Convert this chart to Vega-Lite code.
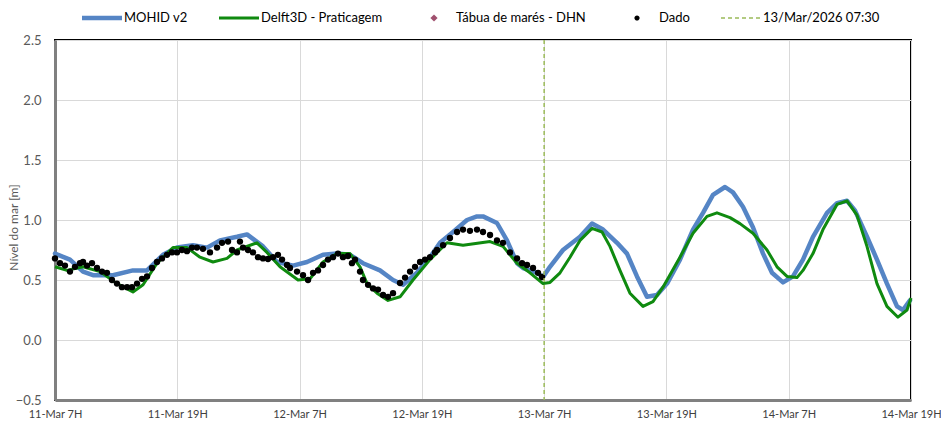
{
  "$schema": "https://vega.github.io/schema/vega-lite/v6.json",
  "width": 856,
  "height": 360,
  "autosize": {"type": "none"},
  "padding": {"left": 55, "top": 40, "right": 30, "bottom": 24},
  "background": "white",
  "config": {
    "font": "Lato",
    "view": {"stroke": "#000000", "strokeWidth": 2},
    "axis": {"gridColor": "#d9d9d9", "gridWidth": 1, "ticks": false, "domainColor": "#808080", "domainWidth": 3}
  },
  "datasets": {
    "mohid": [
      {"t": 7.5, "nivel": 0.72}, {"t": 8.97, "nivel": 0.67}, {"t": 10.25, "nivel": 0.57}, {"t": 11.23, "nivel": 0.54},
      {"t": 13.19, "nivel": 0.54}, {"t": 15.15, "nivel": 0.58}, {"t": 16.53, "nivel": 0.58}, {"t": 18.1, "nivel": 0.71},
      {"t": 19.47, "nivel": 0.77}, {"t": 21.04, "nivel": 0.79}, {"t": 22.42, "nivel": 0.77}, {"t": 23.69, "nivel": 0.83},
      {"t": 25.36, "nivel": 0.86}, {"t": 26.34, "nivel": 0.88}, {"t": 27.91, "nivel": 0.78}, {"t": 29.29, "nivel": 0.65},
      {"t": 30.86, "nivel": 0.62}, {"t": 32.23, "nivel": 0.65}, {"t": 33.8, "nivel": 0.71}, {"t": 35.17, "nivel": 0.72},
      {"t": 36.45, "nivel": 0.71}, {"t": 37.72, "nivel": 0.64}, {"t": 39.39, "nivel": 0.58}, {"t": 40.67, "nivel": 0.5},
      {"t": 41.65, "nivel": 0.46}, {"t": 43.02, "nivel": 0.56}, {"t": 44.3, "nivel": 0.69}, {"t": 45.28, "nivel": 0.81},
      {"t": 46.56, "nivel": 0.9}, {"t": 47.93, "nivel": 1.0}, {"t": 48.91, "nivel": 1.03}, {"t": 49.5, "nivel": 1.03},
      {"t": 50.87, "nivel": 0.975}, {"t": 51.85, "nivel": 0.83}, {"t": 52.84, "nivel": 0.64}, {"t": 53.43, "nivel": 0.6},
      {"t": 54.8, "nivel": 0.56}, {"t": 55.39, "nivel": 0.525}, {"t": 56.07, "nivel": 0.61}, {"t": 57.35, "nivel": 0.75},
      {"t": 59.02, "nivel": 0.86}, {"t": 60.2, "nivel": 0.97}, {"t": 61.28, "nivel": 0.92}, {"t": 62.65, "nivel": 0.81},
      {"t": 63.63, "nivel": 0.72}, {"t": 64.61, "nivel": 0.53}, {"t": 65.59, "nivel": 0.36}, {"t": 66.57, "nivel": 0.375},
      {"t": 67.56, "nivel": 0.47}, {"t": 68.83, "nivel": 0.67}, {"t": 70.11, "nivel": 0.92}, {"t": 71.09, "nivel": 1.06},
      {"t": 72.07, "nivel": 1.21}, {"t": 73.25, "nivel": 1.275}, {"t": 74.03, "nivel": 1.23}, {"t": 75.01, "nivel": 1.11},
      {"t": 75.99, "nivel": 0.94}, {"t": 76.98, "nivel": 0.72}, {"t": 77.86, "nivel": 0.56}, {"t": 78.94, "nivel": 0.48},
      {"t": 79.92, "nivel": 0.53}, {"t": 80.9, "nivel": 0.67}, {"t": 81.88, "nivel": 0.86}, {"t": 83.26, "nivel": 1.06},
      {"t": 84.24, "nivel": 1.14}, {"t": 85.22, "nivel": 1.16}, {"t": 86.0, "nivel": 1.08}, {"t": 87.18, "nivel": 0.86},
      {"t": 88.16, "nivel": 0.67}, {"t": 89.14, "nivel": 0.47}, {"t": 90.13, "nivel": 0.28}, {"t": 90.71, "nivel": 0.25},
      {"t": 91.4, "nivel": 0.33}
    ],
    "delft": [
      {"t": 7.5, "nivel": 0.61}, {"t": 8.68, "nivel": 0.58}, {"t": 10.25, "nivel": 0.61}, {"t": 11.92, "nivel": 0.57},
      {"t": 13.58, "nivel": 0.47}, {"t": 15.15, "nivel": 0.4}, {"t": 16.14, "nivel": 0.46}, {"t": 17.51, "nivel": 0.64},
      {"t": 19.08, "nivel": 0.77}, {"t": 20.45, "nivel": 0.77}, {"t": 21.73, "nivel": 0.69}, {"t": 23.0, "nivel": 0.65},
      {"t": 24.38, "nivel": 0.68}, {"t": 25.36, "nivel": 0.75}, {"t": 27.32, "nivel": 0.81}, {"t": 28.3, "nivel": 0.73},
      {"t": 29.58, "nivel": 0.61}, {"t": 31.35, "nivel": 0.5}, {"t": 32.52, "nivel": 0.51}, {"t": 33.8, "nivel": 0.65},
      {"t": 35.17, "nivel": 0.72}, {"t": 36.45, "nivel": 0.72}, {"t": 37.43, "nivel": 0.61}, {"t": 38.12, "nivel": 0.47},
      {"t": 39.1, "nivel": 0.39}, {"t": 40.18, "nivel": 0.33}, {"t": 41.36, "nivel": 0.36}, {"t": 42.63, "nivel": 0.5},
      {"t": 44.3, "nivel": 0.67}, {"t": 45.97, "nivel": 0.81}, {"t": 47.54, "nivel": 0.79}, {"t": 50.19, "nivel": 0.82},
      {"t": 51.46, "nivel": 0.78}, {"t": 52.84, "nivel": 0.64}, {"t": 54.11, "nivel": 0.56}, {"t": 55.39, "nivel": 0.47},
      {"t": 56.07, "nivel": 0.48}, {"t": 57.06, "nivel": 0.56}, {"t": 58.04, "nivel": 0.69}, {"t": 59.02, "nivel": 0.83},
      {"t": 60.2, "nivel": 0.93}, {"t": 61.18, "nivel": 0.9}, {"t": 61.96, "nivel": 0.78}, {"t": 62.94, "nivel": 0.58},
      {"t": 63.92, "nivel": 0.39}, {"t": 65.2, "nivel": 0.28}, {"t": 66.18, "nivel": 0.32}, {"t": 67.16, "nivel": 0.44},
      {"t": 68.83, "nivel": 0.69}, {"t": 70.11, "nivel": 0.89}, {"t": 71.48, "nivel": 1.03}, {"t": 72.46, "nivel": 1.06},
      {"t": 73.74, "nivel": 1.02}, {"t": 74.72, "nivel": 0.97}, {"t": 75.99, "nivel": 0.89}, {"t": 77.37, "nivel": 0.75},
      {"t": 78.35, "nivel": 0.61}, {"t": 79.33, "nivel": 0.53}, {"t": 80.31, "nivel": 0.52}, {"t": 80.9, "nivel": 0.58},
      {"t": 81.88, "nivel": 0.72}, {"t": 82.86, "nivel": 0.92}, {"t": 84.24, "nivel": 1.13}, {"t": 85.22, "nivel": 1.16},
      {"t": 86.2, "nivel": 1.04}, {"t": 87.18, "nivel": 0.78}, {"t": 88.16, "nivel": 0.47}, {"t": 89.14, "nivel": 0.28},
      {"t": 90.22, "nivel": 0.19}, {"t": 91.11, "nivel": 0.25}, {"t": 91.5, "nivel": 0.35}
    ],
    "dado": [
      {"t": 7.5, "nivel": 0.68}, {"t": 7.99, "nivel": 0.64}, {"t": 8.48, "nivel": 0.62}, {"t": 8.97, "nivel": 0.57},
      {"t": 9.46, "nivel": 0.61}, {"t": 9.95, "nivel": 0.64}, {"t": 10.25, "nivel": 0.65}, {"t": 10.64, "nivel": 0.62},
      {"t": 11.13, "nivel": 0.64}, {"t": 11.62, "nivel": 0.6}, {"t": 12.11, "nivel": 0.57}, {"t": 12.6, "nivel": 0.56},
      {"t": 13.09, "nivel": 0.5}, {"t": 13.58, "nivel": 0.47}, {"t": 14.07, "nivel": 0.44}, {"t": 14.57, "nivel": 0.44},
      {"t": 15.06, "nivel": 0.44}, {"t": 15.55, "nivel": 0.47}, {"t": 16.04, "nivel": 0.51}, {"t": 16.53, "nivel": 0.53},
      {"t": 17.02, "nivel": 0.6}, {"t": 17.51, "nivel": 0.65}, {"t": 18.0, "nivel": 0.68}, {"t": 18.49, "nivel": 0.71},
      {"t": 18.98, "nivel": 0.73}, {"t": 19.47, "nivel": 0.73}, {"t": 19.96, "nivel": 0.75}, {"t": 20.45, "nivel": 0.74},
      {"t": 20.94, "nivel": 0.77}, {"t": 21.43, "nivel": 0.77}, {"t": 22.02, "nivel": 0.76}, {"t": 22.71, "nivel": 0.73},
      {"t": 23.4, "nivel": 0.77}, {"t": 23.89, "nivel": 0.81}, {"t": 24.48, "nivel": 0.82}, {"t": 24.87, "nivel": 0.75},
      {"t": 25.36, "nivel": 0.73}, {"t": 25.65, "nivel": 0.82}, {"t": 25.95, "nivel": 0.77}, {"t": 26.44, "nivel": 0.75},
      {"t": 26.93, "nivel": 0.73}, {"t": 27.42, "nivel": 0.69}, {"t": 27.91, "nivel": 0.68}, {"t": 28.4, "nivel": 0.675},
      {"t": 28.89, "nivel": 0.69}, {"t": 29.38, "nivel": 0.71}, {"t": 29.78, "nivel": 0.67}, {"t": 30.27, "nivel": 0.625},
      {"t": 30.56, "nivel": 0.6}, {"t": 31.25, "nivel": 0.57}, {"t": 31.84, "nivel": 0.54}, {"t": 32.33, "nivel": 0.5},
      {"t": 32.82, "nivel": 0.56}, {"t": 33.31, "nivel": 0.58}, {"t": 33.8, "nivel": 0.625}, {"t": 34.29, "nivel": 0.67},
      {"t": 34.78, "nivel": 0.69}, {"t": 35.27, "nivel": 0.72}, {"t": 35.76, "nivel": 0.69}, {"t": 36.25, "nivel": 0.7},
      {"t": 36.64, "nivel": 0.64}, {"t": 36.94, "nivel": 0.67}, {"t": 37.43, "nivel": 0.57}, {"t": 37.72, "nivel": 0.5},
      {"t": 38.22, "nivel": 0.46}, {"t": 38.71, "nivel": 0.43}, {"t": 39.2, "nivel": 0.42}, {"t": 39.69, "nivel": 0.375},
      {"t": 40.18, "nivel": 0.36}, {"t": 40.67, "nivel": 0.39}, {"t": 41.36, "nivel": 0.475}, {"t": 41.85, "nivel": 0.52},
      {"t": 42.34, "nivel": 0.57}, {"t": 42.83, "nivel": 0.61}, {"t": 43.32, "nivel": 0.65}, {"t": 43.81, "nivel": 0.67},
      {"t": 44.3, "nivel": 0.69}, {"t": 44.79, "nivel": 0.73}, {"t": 44.99, "nivel": 0.75}, {"t": 45.58, "nivel": 0.79},
      {"t": 46.26, "nivel": 0.85}, {"t": 46.95, "nivel": 0.9}, {"t": 47.54, "nivel": 0.92}, {"t": 48.22, "nivel": 0.91},
      {"t": 48.91, "nivel": 0.92}, {"t": 49.5, "nivel": 0.9}, {"t": 50.19, "nivel": 0.875}, {"t": 50.87, "nivel": 0.83},
      {"t": 51.46, "nivel": 0.81}, {"t": 52.15, "nivel": 0.73}, {"t": 52.84, "nivel": 0.68}, {"t": 53.33, "nivel": 0.64},
      {"t": 53.82, "nivel": 0.625}, {"t": 54.41, "nivel": 0.6}, {"t": 54.9, "nivel": 0.56}, {"t": 55.29, "nivel": 0.525}
    ],
    "marco": [{"t": 55.5}]
  },
  "encoding": {
    "x": {
      "field": "t",
      "type": "quantitative",
      "scale": {"domain": [7.5, 91.5], "nice": false, "zero": false},
      "axis": {
        "title": null,
        "values": [7.5, 19.5, 31.5, 43.5, 55.5, 67.5, 79.5, 91.5],
        "labelExpr": "(11 + floor(datum.value / 24)) + '-Mar ' + floor(datum.value % 24) + 'H'",
        "labelFontSize": 11,
        "labelColor": "#404040",
        "labelPadding": 8,
        "labelFlush": false,
        "labelOverlap": false
      }
    }
  },
  "layer": [
    {
      "data": {"name": "mohid"},
      "transform": [{"calculate": "'MOHID v2'", "as": "serie"}],
      "mark": {"type": "line", "strokeWidth": 4.5, "strokeJoin": "round", "strokeCap": "round"},
      "encoding": {
        "y": {
          "field": "nivel",
          "type": "quantitative",
          "scale": {"domain": [-0.5, 2.5], "nice": false, "zero": false},
          "axis": {
            "title": "Nível do mar [m]",
            "values": [-0.5, 0, 0.5, 1, 1.5, 2, 2.5],
            "format": ".1f",
            "labelFontSize": 13,
            "labelColor": "#595959",
            "labelPadding": 14,
            "titleColor": "#595959",
            "titleFontSize": 12,
            "titleFontWeight": "normal",
            "titleX": -35,
            "titleY": 187
          }
        },
        "color": {
          "field": "serie",
          "type": "nominal",
          "scale": {
            "domain": ["MOHID v2", "Delft3D - Praticagem", "Tábua de marés - DHN", "Dado", "13/Mar/2026 07:30"],
            "range": ["#5585c5", "#0f8a0f", "#a0506e", "#000000", "#9bbb59"]
          },
          "legend": {
            "title": null,
            "orient": "none",
            "direction": "horizontal",
            "legendX": 27,
            "legendY": -42,
            "padding": 0,
            "symbolSize": 1600,
            "symbolStrokeWidth": 0,
            "labelFont": "Lato",
            "labelFontSize": 13,
            "labelColor": "#000000",
            "labelOffset": 2,
            "columnPadding": 31,
            "labelLimit": 300,
            "encode": {
              "symbols": {
                "update": {
                  "shape": {"signal": "datum.value === 'MOHID v2' ? 'M-1,-0.115H1V0.115H-1Z' : datum.value === 'Delft3D - Praticagem' ? 'M-1,-0.075H1V0.075H-1Z' : datum.value === 'Tábua de marés - DHN' ? 'M0,-0.18L0.18,0L0,0.18L-0.18,0Z' : datum.value === 'Dado' ? 'M-0.13,0A0.13,0.13 0 1,0 0.13,0A0.13,0.13 0 1,0 -0.13,0Z' : 'M-1,-0.04H-0.8V0.04H-1ZM-0.65,-0.04H-0.45V0.04H-0.65ZM-0.3,-0.04H-0.1V0.04H-0.3ZM0.05,-0.04H0.25V0.04H0.05ZM0.4,-0.04H0.6V0.04H0.4ZM0.75,-0.04H0.95V0.04H0.75Z'"},
                  "fill": {"signal": "datum.value === 'MOHID v2' ? '#5585c5' : datum.value === 'Delft3D - Praticagem' ? '#0f8a0f' : datum.value === 'Tábua de marés - DHN' ? '#a0506e' : datum.value === 'Dado' ? '#000000' : '#9bbb59'"},
                  "fillOpacity": {"value": 1},
                  "strokeWidth": {"value": 0},
                  "opacity": {"value": 1}
                }
              }
            }
          }
        }
      }
    },
    {
      "data": {"name": "delft"},
      "transform": [{"calculate": "'Delft3D - Praticagem'", "as": "serie"}],
      "mark": {"type": "line", "strokeWidth": 3, "strokeJoin": "round"},
      "encoding": {
        "y": {"field": "nivel", "type": "quantitative"},
        "color": {"field": "serie", "type": "nominal"}
      }
    },
    {
      "data": {"name": "dado"},
      "transform": [{"calculate": "'Dado'", "as": "serie"}],
      "mark": {"type": "circle", "size": 40, "opacity": 1},
      "encoding": {
        "y": {"field": "nivel", "type": "quantitative"},
        "color": {"field": "serie", "type": "nominal"}
      }
    },
    {
      "data": {"name": "marco"},
      "transform": [{"calculate": "'13/Mar/2026 07:30'", "as": "serie"}],
      "mark": {"type": "rule", "strokeWidth": 1.5, "strokeDash": [4, 3]},
      "encoding": {
        "color": {"field": "serie", "type": "nominal"}
      }
    }
  ]
}
